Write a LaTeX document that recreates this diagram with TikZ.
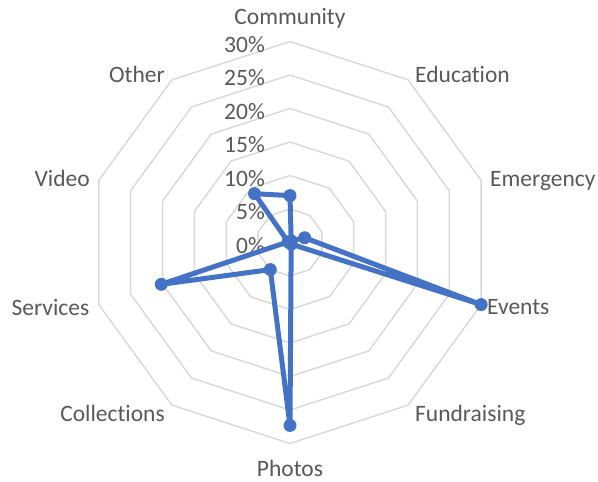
\documentclass[tikz,border=0pt]{standalone}
\usepackage{fontspec}
\setmainfont[Ligatures=NoCommon]{Carlito}
\usepackage{tikz}

\definecolor{gridgrey}{HTML}{D9D9D9}
\definecolor{textgrey}{HTML}{595959}
\definecolor{seriesblue}{HTML}{4472C4}

\begin{document}
\begin{tikzpicture}[x=1pt,y=1pt]
\tikzstyle{every node}=[font=\fontsize{23.5}{27}\selectfont,text=textgrey,inner sep=0pt];
\tikzstyle{gridline}=[draw=gridgrey,line width=1.5pt,line join=round];
\tikzstyle{seriesline}=[draw=seriesblue,line width=5pt,line join=round];
\tikzstyle{marker}=[circle,fill=seriesblue,minimum size=13pt];
\useasboundingbox (-290,-239.5) rectangle (308,242.5);
% web
\foreach \r in {1,...,6}
	\draw[gridline] (90:\r*33.5) \foreach \a in {54,18,...,-234} { -- (\a:\r*33.5) } -- cycle;
% percent scale
\foreach \r in {0,...,5}
	\node[anchor=east] (tick\r) at (-25,\r*33.5-3) {\the\numexpr\r*5\relax\%};
\node[anchor=east] (tick6) at (-25,198) {30\%};
% categories
\node[anchor=base] (community) at (0,217.5) {Community};
\node[anchor=base west] (education) at (125,159.5) {Education};
\node[anchor=base west] (emergency) at (200,55.5) {Emergency};
\node[anchor=base west] (events) at (197,-72) {Events};
\node[anchor=base west] (fundraising) at (125,-179) {Fundraising};
\node[anchor=base] (photos) at (0,-233.5) {Photos};
\node[anchor=base east] (collections) at (-125,-179) {Collections};
\node[anchor=base east] (services) at (-200.5,-73.5) {Services};
\node[anchor=base east] (video) at (-200,55.5) {Video};
\node[anchor=base east] (other) at (-125,159.5) {Other};
% data
\foreach \v [count=\i] in {7,0.3,2.3,30,0.3,27.3,5,20.2,0.3,9}
	\node[marker] (d\i) at ({90-36*(\i-1)}:{\v*6.7}) {};
\draw[seriesline] (d1.center) -- (d2.center) -- (d3.center) -- (d4.center)
	-- (d5.center) -- (d6.center) -- (d7.center) -- (d8.center)
	-- (d9.center) -- (d10.center) -- (d1.center);
\end{tikzpicture}
\end{document}
